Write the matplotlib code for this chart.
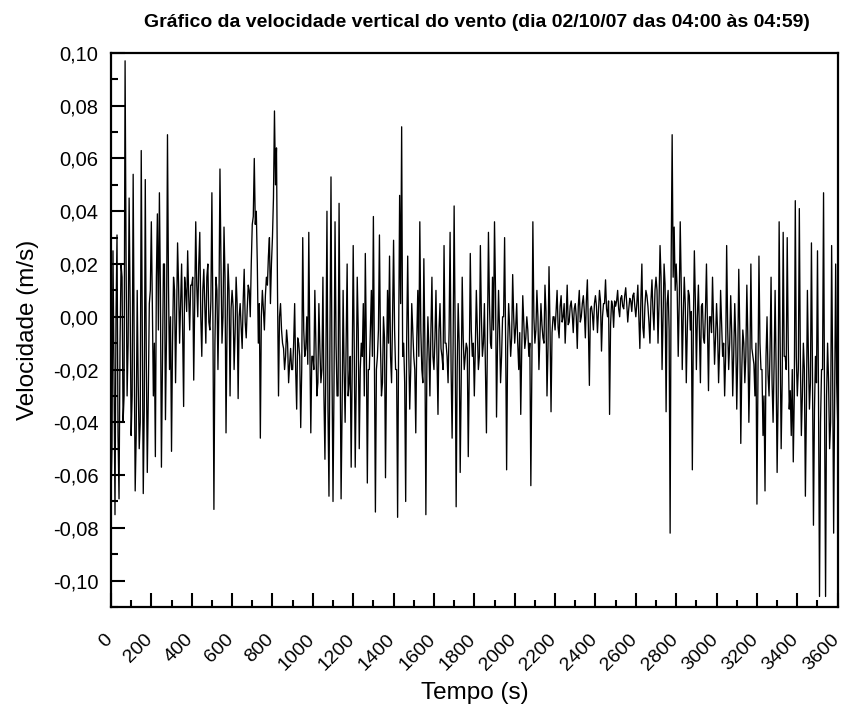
import numpy as np
import matplotlib
matplotlib.use("Agg")
import matplotlib.pyplot as plt
from matplotlib.ticker import MultipleLocator, FuncFormatter
from matplotlib import transforms

# velocidade vertical (m/s), meio passo = 5 s
# picos: leituras em t = 0, 10, 20, ... ; nucleo: leituras em t = 5, 15, 25, ...
passo = 5

w_0000 = [-0.07, 0.025, -0.075, 0.031, -0.069, 0.02, -0.04, 0.097, -0.03, 0.045,
          -0.045, 0.054, -0.066, 0.01, -0.05, 0.063, -0.067, 0.052, -0.059, 0.005,
          0.036, -0.03, -0.053, 0.039, 0.047, -0.057, 0.02, -0.039, 0.069, -0.02,
          -0.051, 0.015, -0.025, 0.028, -0.01, 0.02, -0.034, 0.01, 0.025, -0.005,
          0.012, -0.024, 0.036, 0.0, 0.032, -0.015, 0.018, -0.01, 0.02, -0.005,
          0.047, -0.073, 0.015, -0.02, 0.056, -0.01, 0.034, -0.044, 0.02, -0.03]

w_0600 = [0.01, -0.02, 0.015, -0.031, 0.005, -0.012, 0.018, -0.008, 0.012, 0.0,
          0.035, 0.06, 0.04, -0.01, -0.046, 0.01, -0.005, 0.015, 0.023, 0.005,
          0.03, 0.078, 0.064, -0.03, 0.005, -0.01, -0.02, -0.005, -0.025, -0.012,
          -0.02, 0.005, -0.035, -0.01, -0.042, 0.03, -0.015, 0.0, 0.032, -0.044,
          -0.015, 0.01, -0.03, 0.005, -0.025, 0.015, -0.054, 0.04, -0.068, 0.053,
          -0.07, 0.036, -0.03, 0.043, -0.069, 0.01, -0.04, 0.02, -0.025, -0.057]

w_1200 = [0.027, -0.057, 0.015, -0.05, -0.01, 0.005, 0.024, -0.063, -0.02, 0.01,
          0.038, -0.074, -0.015, 0.031, -0.03, 0.0, -0.061, 0.01, 0.023, -0.025,
          0.029, -0.02, -0.076, 0.046, 0.072, -0.01, -0.07, 0.023, -0.035, 0.005,
          -0.015, -0.044, 0.01, 0.036, -0.02, 0.022, -0.075, 0.0, -0.03, 0.015,
          -0.02, 0.01, -0.037, 0.005, -0.015, 0.027, -0.01, -0.025, 0.032, -0.046,
          0.042, -0.072, 0.005, -0.059, 0.015, -0.02, -0.01, -0.053, 0.024, -0.015]

w_1800 = [-0.03, 0.01, -0.02, 0.027, -0.015, 0.005, -0.044, 0.032, -0.01, 0.015,
          0.036, -0.038, 0.01, -0.025, 0.0, 0.03, -0.058, 0.005, -0.015, 0.016,
          -0.01, 0.005, -0.02, -0.037, 0.008, -0.012, 0.0, -0.015, -0.064, 0.036,
          -0.01, 0.01, -0.02, 0.005, -0.008, 0.012, -0.03, 0.019, -0.036, 0.0,
          -0.005, 0.01, -0.008, 0.008, 0.0, -0.01, 0.012, -0.002, 0.006, -0.006,
          0.005, -0.012, 0.01, 0.0, 0.008, -0.008, 0.014, -0.026, 0.004, -0.005]

w_2400 = [0.008, -0.006, 0.01, -0.013, 0.005, 0.014, 0.0, -0.037, 0.006, -0.004,
          0.004, 0.01, 0.0, 0.008, 0.003, 0.011, -0.002, 0.007, 0.002, 0.009,
          0.0, 0.012, -0.012, 0.02, -0.008, 0.01, 0.004, -0.01, 0.014, -0.005,
          0.015, -0.01, 0.027, -0.02, 0.02, -0.036, 0.01, -0.082, 0.069, 0.034,
          0.02, -0.015, 0.036, -0.02, 0.015, -0.025, 0.01, -0.005, -0.058, 0.025,
          -0.02, 0.012, -0.025, 0.005, -0.01, 0.02, -0.028, 0.0, 0.015, -0.018]

w_3000 = [0.005, -0.025, 0.01, -0.015, -0.03, 0.027, -0.02, 0.008, -0.03, 0.005,
          -0.035, 0.018, -0.048, -0.005, -0.025, 0.012, -0.04, 0.02, -0.015, -0.03,
          -0.071, 0.023, -0.02, -0.045, -0.066, 0.0, -0.03, 0.015, -0.04, 0.01,
          -0.059, 0.036, -0.05, 0.032, -0.015, 0.03, -0.035, -0.045, -0.055, 0.044,
          -0.03, 0.041, -0.045, -0.01, -0.068, 0.01, -0.035, 0.028, -0.079, -0.015,
          0.025, -0.106, -0.02, 0.047, -0.106, -0.01, -0.05, 0.027, -0.082, 0.02,
          -0.04]

n_0000 = [-0.05, -0.02, 0.0, -0.045, -0.01, 0.015, -0.03, 0.02, -0.01, 0.005,
          -0.03, -0.01, -0.045, -0.025, -0.04, -0.005, -0.035, -0.015, -0.03, 0.01,
          0.005, -0.01, 0.015, -0.005, 0.01, -0.02, 0.02, -0.008, 0.012, 0.0,
          -0.01, 0.01, 0.0, 0.012, 0.005, -0.005, 0.015, 0.002, 0.008, 0.012,
          0.015, 0.005, 0.012, 0.02, 0.0, 0.01, 0.004, 0.015, -0.002, 0.006,
          0.0, -0.01, 0.01, 0.005, 0.02, 0.0, 0.015, -0.005, 0.01, 0.003]

n_0600 = [0.004, -0.006, 0.005, 0.0, -0.004, 0.006, -0.002, 0.003, 0.01, 0.02,
          0.038, 0.035, 0.02, 0.005, 0.0, 0.003, 0.008, 0.012, 0.03, 0.02,
          0.045, 0.05, 0.01, 0.0, -0.005, -0.012, -0.015, -0.01, -0.018, -0.02,
          -0.01, -0.02, -0.008, -0.015, -0.02, -0.005, -0.012, -0.018, -0.01, -0.015,
          -0.02, -0.01, -0.025, -0.012, -0.02, -0.03, -0.015, -0.035, -0.01, -0.02,
          -0.025, -0.01, -0.03, -0.015, -0.035, -0.02, -0.01, -0.03, -0.015, -0.02]

n_1200 = [-0.01, -0.025, -0.005, -0.02, -0.015, -0.03, -0.01, -0.02, -0.005, -0.015,
          -0.015, -0.02, -0.005, -0.01, -0.025, -0.008, -0.02, -0.01, -0.015, 0.0,
          -0.005, -0.02, -0.01, 0.005, -0.015, -0.025, -0.008, -0.012, -0.02, -0.005,
          -0.02, -0.008, -0.015, -0.005, -0.025, -0.01, -0.018, -0.012, -0.005, -0.015,
          -0.008, -0.015, -0.005, -0.012, -0.02, -0.01, -0.015, -0.005, -0.02, -0.01,
          -0.005, -0.02, -0.01, -0.025, -0.008, -0.015, -0.012, -0.02, -0.005, -0.01]

n_1800 = [-0.012, -0.005, -0.015, 0.0, -0.01, -0.02, -0.008, 0.005, -0.012, -0.005,
          0.01, -0.01, -0.005, -0.015, 0.0, -0.008, -0.012, -0.004, -0.008, 0.0,
          -0.004, -0.01, -0.006, -0.012, -0.002, -0.008, -0.005, -0.01, -0.02, 0.0,
          -0.005, 0.0, -0.008, -0.003, -0.01, 0.002, -0.012, -0.004, -0.006, 0.0,
          0.002, -0.004, 0.004, -0.002, 0.005, 0.0, -0.003, 0.004, 0.001, 0.003,
          0.0, 0.004, -0.002, 0.005, 0.002, 0.006, -0.004, 0.003, 0.001, 0.005]

n_2400 = [0.004, 0.002, 0.006, 0.0, 0.005, 0.003, 0.006, -0.003, 0.004, 0.006,
          0.006, 0.003, 0.007, 0.004, 0.008, 0.005, 0.003, 0.006, 0.008, 0.004,
          0.005, 0.0, 0.006, -0.004, 0.004, 0.008, -0.002, 0.006, 0.002, 0.01,
          0.01, 0.005, 0.015, 0.0, 0.012, 0.005, -0.005, 0.02, 0.015, 0.01,
          0.01, 0.005, 0.012, 0.0, 0.005, -0.005, 0.008, 0.002, -0.004, 0.006,
          0.0, -0.005, 0.004, -0.008, 0.002, -0.004, 0.0, -0.006, -0.002, -0.008]

n_3000 = [-0.005, -0.012, -0.002, -0.01, -0.015, -0.004, -0.01, -0.006, -0.014, -0.008,
          -0.015, -0.005, -0.02, -0.01, -0.015, -0.008, -0.02, -0.012, -0.018, -0.01,
          -0.025, -0.01, -0.02, -0.03, -0.015, -0.022, -0.012, -0.025, -0.018, -0.02,
          -0.03, -0.01, -0.025, -0.015, -0.02, -0.01, -0.028, -0.02, -0.03, -0.015,
          -0.02, -0.015, -0.03, -0.02, -0.035, -0.015, -0.025, -0.02, -0.035, -0.025,
          -0.03, -0.04, -0.02, -0.035, -0.03, -0.025, -0.04, -0.02, -0.03, -0.025]

picos = w_0000 + w_0600 + w_1200 + w_1800 + w_2400 + w_3000
nucleo = n_0000 + n_0600 + n_1200 + n_1800 + n_2400 + n_3000

velocidade = np.empty(len(picos) + len(nucleo))
velocidade[0::2] = picos
velocidade[1::2] = nucleo
tempo = np.arange(len(velocidade)) * passo

titulo = "Gráfico da velocidade vertical do vento (dia 02/10/07 das 04:00 às 04:59)"

plt.rcParams["font.family"] = ["Liberation Sans", "DejaVu Sans"]

fig = plt.figure(figsize=(8.47, 7.15), dpi=100, facecolor="white")
ax = fig.add_axes([0.131, 0.151, 0.858, 0.775])

ax.plot(tempo, velocidade, color="black", linewidth=0.95)

ax.set_xlim(0, 3600)
ax.set_ylim(-0.11, 0.10)

ax.xaxis.set_major_locator(MultipleLocator(200))
ax.xaxis.set_minor_locator(MultipleLocator(100))
ax.yaxis.set_major_locator(MultipleLocator(0.02))
ax.yaxis.set_minor_locator(MultipleLocator(0.01))
ax.yaxis.set_major_formatter(FuncFormatter(lambda v, _: f"{v:.2f}".replace(".", ",").replace("-0,00", "0,00")))

ax.tick_params(which="both", direction="in", top=False, right=False, width=1.5, labelsize=14.5)
ax.tick_params(which="major", length=10)
ax.tick_params(which="minor", length=5)
ax.tick_params(axis="y", pad=9)
ax.tick_params(axis="x", pad=17, labelsize=14)

for lbl in ax.get_xticklabels():
    lbl.set_rotation(45)
    lbl.set_ha("right")
    lbl.set_va("top")
    lbl.set_transform(lbl.get_transform() + transforms.ScaledTranslation(5 / 100, 0, fig.dpi_scale_trans))

for s in ax.spines.values():
    s.set_linewidth(1.6)

ax.set_xlabel("Tempo (s)", fontsize=17.5, labelpad=6)
ax.set_ylabel("Velocidade (m/s)", fontsize=17.5, labelpad=10)

fig.text(0.563, 0.969, titulo, ha="center", va="center", fontsize=14, fontweight="bold")

fig.savefig("out.png", dpi=100)
